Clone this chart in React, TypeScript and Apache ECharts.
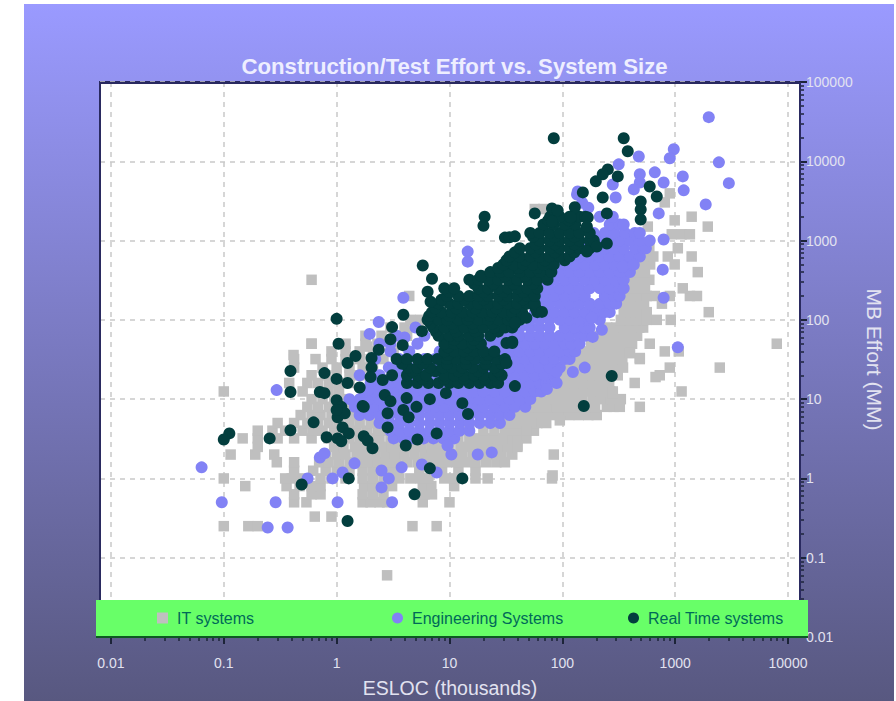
import React, { useEffect, useRef } from "react";
import * as echarts from "echarts";

const titleText = "Construction/Test Effort vs. System Size";
const xAxisName = "ESLOC (thousands)";
const yAxisName = "MB Effort (MM)";
const seriesNames = ["IT systems", "Engineering Systems", "Real Time systems"];
const xMajor = [0.01, 0.1, 1, 10, 100, 1000, 10000];
const yMajor = [0.01, 0.1, 1, 10, 100, 1000, 10000, 100000];

// rows: [effort, [sizes...]]
const itRows: [number, number[]][] = [
  [0.5, [0.42, 0.54, 1.7, 2.0, 2.4, 2.8, 5.8, 10]],
  [0.63, [0.42, 0.6, 0.72, 1.7, 2.1, 2.6, 6, 7]],
  [0.8, [0.155, 0.36, 0.47, 0.6, 0.72, 1.75, 2.1, 2.5, 3.1, 5.8, 6.9, 11]],
  [1, [0.1, 0.35, 0.4, 0.48, 0.72, 0.9, 1.2, 1.7, 2.1, 2.6, 3, 3.6, 4.5, 5.5, 6.5, 9, 11, 17, 21.8, 81]],
  [1.25, [0.42, 0.62, 0.8, 1, 1.3, 1.7, 2.1, 2.5, 2.9, 3.5, 5.4, 7.2, 8.6, 12, 17]],
  [1.6, [0.295, 0.42, 0.7, 0.85, 1.05, 1.3, 1.6, 1.9, 2.3, 2.8, 3.4, 4.2, 5.2, 6.4, 7.8, 9.5, 11.5, 14, 17, 21, 26, 31]],
  [2, [0.115, 0.19, 0.28, 0.8, 1, 1.2, 1.5, 1.8, 2.2, 2.7, 3.3, 4, 4.9, 6, 7.3, 8.9, 11, 13, 16, 20, 24, 29, 36, 84]],
  [2.5, [0.2, 0.95, 1.15, 1.45, 1.75, 2.1, 2.6, 3.1, 3.8, 4.6, 5.6, 6.9, 8.4, 10, 12.5, 15, 18, 22, 27, 33, 40]],
  [3.2, [0.147, 0.2, 0.3, 0.42, 0.6, 0.85, 1.05, 1.3, 1.6, 2, 2.4, 3, 3.6, 4.4, 5.4, 6.6, 8, 10, 12, 15, 18, 22, 27, 33, 40, 48]],
  [4, [0.2, 0.27, 0.35, 0.5, 0.62, 0.75, 0.95, 1.2, 1.5, 1.85, 2.3, 2.8, 3.4, 15, 20, 25, 31, 38, 46, 56]],
  [5, [0.3, 0.42, 0.55, 0.68, 0.85, 1.05, 1.3, 1.6, 2, 2.5, 28, 34, 41, 50, 60, 72]],
  [6.3, [0.48, 0.6, 0.72, 0.9, 1.1, 1.4, 1.7, 36, 44, 53, 64, 78, 95, 115, 140, 170, 202]],
  [8, [0.55, 0.68, 0.85, 1.05, 1.3, 42, 50, 61, 74, 90, 110, 133, 160, 195, 248, 285, 323, 486]],
  [10, [0.6, 0.75, 0.95, 1.15, 50, 60, 72, 88, 105, 125, 150, 185, 225, 270, 330]],
  [12.5, [0.1, 0.5, 0.85, 1.05, 60, 72, 87, 105, 125, 150, 180, 220, 265, 280, 1140]],
  [16, [0.38, 0.55, 0.68, 0.85, 1.05, 1.3, 72, 87, 105, 125, 150, 180, 215, 260, 438]],
  [20, [0.6, 0.8, 1, 1.3, 1.6, 87, 105, 125, 150, 180, 215, 255, 310, 730]],
  [25, [0.42, 0.75, 1, 1.3, 1.7, 2.1, 105, 125, 150, 180, 215, 250, 300, 345, 896, 2485]],
  [32, [0.42, 0.65, 0.9, 1.2, 1.6, 2, 125, 150, 180, 215, 250, 290, 340, 486]],
  [40, [0.9, 1.2, 1.6, 2.1, 150, 180, 215, 250, 290, 340, 397, 809, 1076]],
  [50, [0.6, 1.2, 1.8, 2.3, 3, 180, 215, 255, 300, 350, 415, 595, 7950]],
  [63, [1.8, 2.5, 3.3, 4.2, 215, 255, 300, 350, 415, 460]],
  [80, [3, 4, 250, 300, 350, 410, 480, 520]],
  [100, [4.5, 5.5, 330, 390, 450, 520, 560, 687, 914]],
  [125, [350, 400, 450, 500, 560, 1985]],
  [160, [350, 420, 480, 530, 763]],
  [200, [4.4, 400, 470, 560, 660, 896, 1350, 1560]],
  [250, [380, 430, 490, 540, 1168]],
  [320, [0.6, 400, 450, 520, 590]],
  [400, [470, 540, 1586]],
  [500, [520, 600, 990]],
  [630, [530, 640, 860, 1400]],
  [800, [590, 1055]],
  [1200, [933, 1140, 1350]],
  [1500, [572, 1945]],
  [1800, [990]],
  [2000, [1400]],
  [2500, [57, 68]],
  [3030, [809]],
  [3940, [896]],
];

const engRows: [number, number[]][] = [
  [3.2, [3.2, 3.9, 4.8, 5.9, 7.2, 8.8, 11]],
  [4, [3, 3.6, 4.4, 5.4, 6.7, 8.2, 10, 12.3, 15]],
  [5, [2.4, 2.95, 3.6, 4.4, 5.4, 6.7, 8.2, 10, 12.3, 15, 18.5, 23, 28]],
  [6.3, [1.6, 1.95, 2.4, 2.95, 3.6, 4.4, 5.4, 6.7, 8.2, 10, 12.3, 15, 18.5, 23, 28, 34]],
  [8, [1.45, 1.75, 2.15, 2.65, 3.25, 4, 4.9, 6, 7.4, 9, 11, 13.5, 16.5, 20, 25, 31, 38, 47]],
  [10, [1.3, 1.6, 1.95, 2.4, 2.95, 3.6, 4.4, 5.4, 6.7, 8.2, 10, 12.3, 15, 18.5, 23, 28, 34, 42, 52]],
  [12.5, [1.75, 2.15, 2.65, 3.25, 4, 4.9, 6, 7.4, 9, 11, 13.5, 16.5, 20, 25, 31, 38, 47, 57, 65]],
  [16, [2.4, 2.95, 3.6, 4.4, 5.4, 6.7, 8.2, 10, 12.3, 15, 18.5, 23, 28, 34, 42, 52, 63, 72]],
  [20, [3.25, 4, 4.9, 6, 7.4, 9, 11, 13.5, 16.5, 20, 25, 31, 38, 47, 57, 70, 85]],
  [25, [4.4, 5.4, 6.7, 8.2, 10, 12.3, 15, 18.5, 23, 28, 34, 42, 52, 63, 77, 95]],
  [32, [6, 7.4, 9, 11, 13.5, 16.5, 20, 25, 31, 38, 47, 57, 70, 85, 105, 116]],
  [40, [8.2, 10, 12.3, 15, 18.5, 23, 28, 34, 42, 52, 63, 77, 95, 116, 130]],
  [50, [16.5, 20, 25, 31, 38, 47, 57, 70, 85, 105, 120, 142]],
  [63, [23, 28, 34, 42, 52, 63, 77, 95, 116, 142, 160]],
  [80, [34, 42, 52, 63, 77, 105, 128, 158, 175]],
  [100, [42, 52, 63, 77, 95, 116, 142, 175, 215]],
  [125, [57, 70, 85, 105, 128, 158, 195, 238, 263]],
  [160, [63, 77, 95, 116, 142, 175, 215, 263, 300]],
  [200, [70, 85, 105, 128, 158, 238, 290, 322]],
  [250, [63, 77, 95, 116, 142, 175, 215, 263, 322, 350]],
  [320, [70, 85, 105, 128, 158, 195, 238, 290, 350]],
  [400, [77, 95, 116, 142, 175, 215, 263, 322, 397]],
  [500, [105, 128, 158, 195, 238, 290, 350, 397]],
  [630, [116, 142, 175, 215, 263, 322, 397, 486]],
  [800, [158, 195, 238, 290, 350, 440, 520, 550]],
  [1000, [190, 215, 263, 322, 397, 486, 595]],
  [1250, [190, 238, 290, 360, 440, 486]],
  [1600, [263, 322, 350]],
  [2000, [215, 280]],
];

const rtRows: [number, number[]][] = [
  [16, [4.2, 5.2, 6.5, 8, 10, 12, 15, 18.5, 23, 27]],
  [18, [5.8, 9, 13.5, 20.5]],
  [20, [4.2, 5.2, 6.2, 9, 11, 13.5, 16.5, 20, 25, 29]],
  [22.5, [4.7, 7.5, 12, 18, 27]],
  [25, [4.3, 5.2, 6.7, 8.7, 10.5, 13, 16, 20, 25]],
  [28, [3.8, 5.8, 9.5, 14, 21, 29]],
  [32, [3.4, 4.2, 5.2, 6.4, 7.8, 9.5, 11.5, 14, 17, 21, 26, 31]],
  [36, [9.7, 15, 22]],
  [40, [9, 11, 13.5, 16.5, 20, 25]],
  [45, [9.7, 14.5]],
  [50, [9, 11, 13, 16, 19]],
  [56, [11, 16.5]],
  [63, [8, 10, 12, 15, 18, 23]],
  [71, [7.6, 11.5, 17, 27]],
  [80, [7.2, 9, 11, 13.5, 16.5, 20, 25, 31, 36]],
  [90, [6.8, 10.5, 16, 24, 38]],
  [100, [6.4, 8, 9.5, 12, 14.5, 18, 22, 27, 33, 42]],
  [112, [6.6, 10, 15, 23, 35]],
  [125, [7, 8.5, 10.5, 13, 16, 19.5, 24, 30, 36, 44, 60]],
  [140, [7.5, 11.5, 17, 26, 38, 58]],
  [160, [8, 10, 12, 15, 18, 22, 27, 33, 40, 49, 57]],
  [180, [8.5, 13.5, 20, 30, 45]],
  [200, [9.5, 12, 15, 18, 22, 27, 33, 40, 49, 57]],
  [225, [10, 20, 30, 45]],
  [250, [9, 11, 18, 22, 27, 33, 40, 49, 60]],
  [285, [16.5, 24.5, 37, 55]],
  [320, [15, 18, 22, 27, 33, 40, 49, 60, 74]],
  [360, [19, 31, 47, 72]],
  [400, [23, 28, 34, 42, 52, 63, 80]],
  [450, [27, 41, 60]],
  [500, [30, 37, 45, 55, 68, 84]],
  [565, [32, 47, 70, 105]],
  [630, [34, 42, 52, 63, 77, 95, 116]],
  [710, [38, 58, 86, 128]],
  [800, [42, 52, 63, 77, 95, 116, 142, 175]],
  [900, [58, 86, 128, 182]],
  [1000, [63, 77, 95, 116, 142, 175, 190]],
  [1120, [55, 86, 128]],
  [1250, [52, 63, 77, 95, 116, 142, 175]],
  [1600, [68, 84, 105, 130]],
  [1800, [75, 115]],
  [2000, [78, 95, 116, 142, 160]],
];

const itExtra: number[][] = [
  [2.8, 0.06], [0.1, 0.25], [0.165, 0.25], [0.2, 0.25], [4.7, 0.25], [7.7, 0.25], [0.64, 0.33], [0.9, 0.33],
  [29.6, 3.1], [40, 2.6], [48, 4.05], [66, 5.1], [95, 5.4], [82, 1.09], [0.6, 50], [0.415, 36],
  [670, 19], [280, 11.9], [486, 33], [397, 38], [1.85, 46], [2.6, 32], [3.2, 40], [4.2, 68],
];

const engExtra: number[][] = [
  [1985, 36000], [2440, 9700], [2990, 5300], [1865, 2860], [972, 14200], [896, 10900], [476, 11500], [316, 9150],
  [660, 7250], [1168, 6450], [486, 6850], [486, 5400], [790, 5400], [1190, 4300], [430, 4420], [715, 2200],
  [790, 1030], [343, 468], [430, 497], [776, 430], [790, 190], [1055, 45], [297, 3500], [280, 5100], [137, 4170],
  [14.5, 726], [14.5, 542], [2.36, 94], [1.96, 66.5], [3.9, 190], [0.294, 13], [0.0636, 1.38], [0.096, 0.5],
  [0.288, 0.5], [1.02, 0.5], [0.245, 0.24], [0.368, 0.24], [0.553, 1], [0.71, 1.84], [0.78, 2.07], [0.92, 1],
  [1.13, 1.19], [1.44, 1.55], [2.5, 1.26], [2.9, 1], [2.5, 0.77], [3.1, 0.5], [3.77, 1.38], [5.7, 1.5], [7.7, 1.19],
  [17.8, 2], [23.7, 2.13], [10.4, 2], [9.6, 2.6], [73, 13.4], [89, 16], [89, 22], [124, 22], [158, 25],
  [182, 106], [186, 61], [224, 75],
  [2.4, 50], [3, 40], [3.6, 32], [2.9, 25], [3.6, 25], [2.4, 20], [2, 16], [3, 50], [4, 60], [4.4, 40], [5.2, 50],
  [3.4, 63], [5, 80], [6, 63], [2.2, 32], [1.6, 20], [1.9, 13], [135, 3800], [170, 2600], [150, 3000], [110, 1600],
];

const rtExtra: number[][] = [
  [84, 19500], [350, 19500], [380, 13400], [253, 7900], [228, 6850], [198, 5580], [310, 6450], [152, 4050],
  [228, 3500], [248, 2200], [595, 4800], [687, 3600], [495, 3120], [495, 2470], [495, 1845], [129, 2630],
  [119, 1960], [168, 1960], [165, 1500], [81, 2540], [91, 2400], [57, 2200], [81, 1740], [20.5, 2000], [20, 1540],
  [31, 1090], [34, 1100], [38, 1130], [248, 920], [202, 840], [165, 726], [66, 126], [48, 106], [38, 92], [36, 53],
  [32, 28.6], [38, 14.6], [274, 19.6], [155, 8.2], [14.6, 6.5], [13, 8.9], [9.3, 11.9], [32, 51], [36, 51],
  [5.8, 485], [7, 330], [6.4, 226], [6.8, 169], [3.9, 116], [1, 103], [1.04, 50], [3.1, 81], [3, 57], [3.85, 48],
  [5.7, 72], [2.36, 42], [1.47, 35], [1.25, 28.6], [2.04, 33], [2.04, 25], [0.78, 21.3], [1, 18], [1.25, 16], [1.6, 14],
  [0.71, 12.3], [0.78, 11.9], [1.7, 8.2], [1, 9.7], [1.1, 8], [1.02, 5.9], [1.18, 6.65], [1, 7.3], [0.625, 5.1],
  [1.13, 4.4], [1.28, 3.7], [0.815, 3.3], [1.02, 3.2], [1.1, 2.94], [0.39, 4.05], [0.255, 3.2], [0.112, 3.7], [0.1, 3.1],
  [1.74, 8], [1.74, 3.4], [1.88, 3], [2.08, 2.4], [2.83, 6.65], [2.83, 4.4], [2.67, 11.3], [3, 9.4], [4.17, 10.3],
  [3.9, 7.3], [4.35, 5.9], [5.1, 8], [4.1, 2.6], [5.2, 3.1], [7.7, 3.7], [6.7, 10], [0.39, 22.6], [0.39, 12.3],
  [2, 19], [2.56, 17.4], [3.1, 20], [6.7, 1.34], [13, 1], [4.9, 0.63], [1.28, 1], [0.49, 0.84], [1.25, 0.29],
];

const flatten = (rows: [number, number[]][], extra: number[][]) => [
  ...rows.flatMap(([y, xs]) => xs.map((x) => [x, y])),
  ...extra,
];

const minorValues = (from: number, to: number) => {
  const out: number[] = [];
  for (let d = from; d < to; d++) for (let m = 2; m < 10; m++) out.push(m * 10 ** d);
  return out;
};

const isMajor = (v: number, list: number[]) => list.some((m) => Math.abs(Math.log10(v) - Math.log10(m)) < 1e-6);

export default function App() {
  const ref = useRef<HTMLDivElement>(null);
  useEffect(() => {
    const chart = echarts.init(ref.current!, undefined, { renderer: "svg" });
    const light = "#e2e2f0";
    const tickCol = "#1c2438";
    const legendBase = {
      top: 610,
      selectedMode: false,
      itemWidth: 11,
      itemHeight: 11,
      itemGap: 0,
      padding: 0,
      z: 20,
      textStyle: { color: "#006a58", fontFamily: "Liberation Sans", fontSize: 16, padding: [0, 0, 0, 4] },
    };
    chart.setOption({
      animation: false,
      backgroundColor: "#ffffff",
      title: {
        text: titleText,
        left: 449.5,
        top: 50,
        textAlign: "center",
        textStyle: { color: "#eeeeff", fontFamily: "Liberation Sans", fontSize: 22.2, fontWeight: "bold" },
      },
      grid: {
        show: true,
        left: 100,
        top: 82,
        width: 700,
        height: 555,
        outerBoundsMode: "none",
        backgroundColor: "#ffffff",
        borderColor: "#2a2a60",
        borderWidth: 2,
        containLabel: false,
      },
      xAxis: [
        {
          type: "log",
          logBase: 10,
          min: 0.008,
          max: 12770,
          name: xAxisName,
          nameLocation: "middle",
          nameGap: 41,
          nameTextStyle: { color: light, fontFamily: "Liberation Sans", fontSize: 19.5 },
          axisLine: { show: true, lineStyle: { color: "#1c2438", width: 2 } },
          axisTick: { show: true, length: 7, customValues: xMajor, lineStyle: { color: tickCol, width: 2 } },
          axisLabel: { show: true, customValues: xMajor, color: light, fontFamily: "Liberation Sans", fontSize: 14, margin: 19,
            formatter: (v: number) => (isMajor(v, xMajor) ? String(+v.toPrecision(3)) : "") },
          splitLine: { show: true, lineStyle: { color: "#c9c9c9", type: [5, 5], width: 1.5 } },
          minorTick: { show: false },
        },
        {
          type: "log",
          logBase: 10,
          min: 0.008,
          max: 12770,
          position: "bottom",
          axisLine: { show: false },
          axisTick: { show: true, length: 4, customValues: minorValues(-2, 4), lineStyle: { color: tickCol, width: 1.5 } },
          axisLabel: { show: false },
          splitLine: { show: false },
        },
      ],
      yAxis: [
        {
          type: "log",
          logBase: 10,
          min: 0.01,
          max: 100000,
          position: "right",
          name: yAxisName,
          nameLocation: "middle",
          nameRotate: -90,
          nameGap: 56,
          nameTextStyle: { color: light, fontFamily: "Liberation Sans", fontSize: 21 },
          axisLine: { show: true, lineStyle: { color: "#1c2438", width: 2 } },
          axisTick: { show: true, length: 7, customValues: yMajor, lineStyle: { color: tickCol, width: 2 } },
          axisLabel: { show: true, customValues: yMajor, color: light, fontFamily: "Liberation Sans", fontSize: 14, margin: 6,
            formatter: (v: number) => String(+v.toPrecision(3)) },
          splitLine: { show: true, lineStyle: { color: "#c9c9c9", type: [5, 5], width: 1.5 } },
        },
        {
          type: "log",
          logBase: 10,
          min: 0.01,
          max: 100000,
          position: "right",
          axisLine: { show: false },
          axisTick: { show: true, length: 4, customValues: minorValues(-2, 5), lineStyle: { color: tickCol, width: 1.5 } },
          axisLabel: { show: false },
          splitLine: { show: false },
        },
      ],
      legend: [
        { ...legendBase, left: 157, data: [seriesNames[0]] },
        { ...legendBase, left: 392, data: [seriesNames[1]] },
        { ...legendBase, left: 628, data: [seriesNames[2]] },
      ],
      graphic: [
        {
          type: "rect",
          z: -10,
          silent: true,
          shape: { x: 24, y: 4, width: 870, height: 697 },
          style: {
            fill: new echarts.graphic.LinearGradient(0, 0, 0, 1, [
              { offset: 0, color: "#9a9aff" },
              { offset: 1, color: "#585880" },
            ]),
          },
        },
        {
          type: "rect",
          z: 10,
          silent: true,
          shape: { x: 100, y: 83, width: 700, height: 554 },
          style: { fill: "transparent", stroke: "#2a2a60", lineWidth: 2 },
        },
        {
          type: "rect",
          z: 15,
          silent: true,
          shape: { x: 96, y: 600, width: 712, height: 36 },
          style: { fill: "#68ff68", shadowColor: "#0e5a20", shadowBlur: 0, shadowOffsetY: 2 },
        },
      ],
      series: [
        {
          name: seriesNames[0], type: "scatter", symbol: "rect", symbolSize: 10.5, itemStyle: { color: "#bfbfbf", opacity: 1 }, clip: false, z: 2,
          data: flatten(itRows, itExtra),
        },
        {
          name: seriesNames[1], type: "scatter", symbol: "circle", symbolSize: 12, itemStyle: { color: "#8282f5", opacity: 1 }, clip: false, z: 3,
          data: flatten(engRows, engExtra),
        },
        {
          name: seriesNames[2], type: "scatter", symbol: "circle", symbolSize: 12, itemStyle: { color: "#033e3e", opacity: 1 }, clip: false, z: 4,
          data: flatten(rtRows, rtExtra),
        },
      ],
    });
    return () => chart.dispose();
  }, []);
  return <div ref={ref} style={{ position: "absolute", left: 0, top: 0, width: 896, height: 701 }} />;
}
